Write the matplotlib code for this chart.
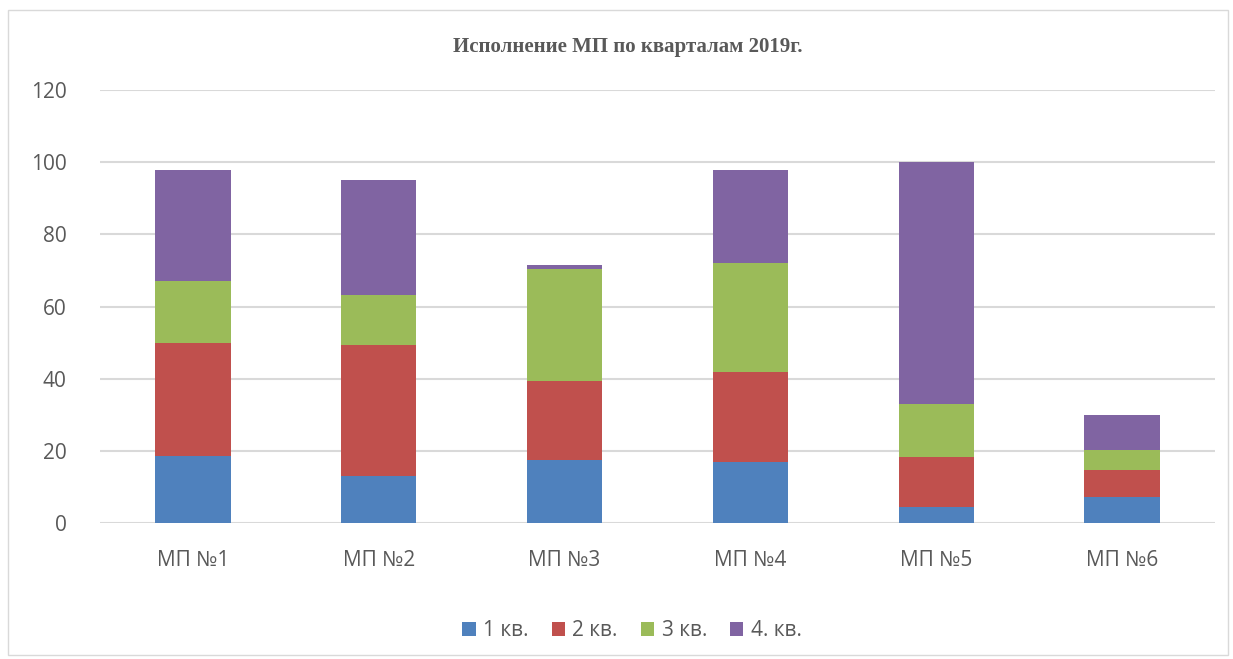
import numpy as np
import matplotlib.pyplot as plt
from matplotlib.patches import Rectangle

categories = ["МП №1", "МП №2", "МП №3", "МП №4", "МП №5", "МП №6"]
series_names = ["1 кв.", "2 кв.", "3 кв.", "4. кв."]
q1 = [18.7, 13.1, 17.5, 17.0, 4.4, 7.3]
q2 = [31.2, 36.4, 21.8, 24.8, 13.9, 7.5]
q3 = [17.2, 13.7, 31.1, 30.3, 14.8, 5.5]
q4 = [30.8, 31.8, 1.0, 25.7, 66.9, 9.6]
colors = ["#4f81bd", "#c0504d", "#9bbb59", "#8064a2"]

plt.rcParams['font.family'] = ['Open Sans', 'DejaVu Sans']

fig = plt.figure(figsize=(12.33, 6.59), dpi=100)
ax = fig.add_axes([100 / 1233, 1 - 523.3 / 659, 1115 / 1233, (523.3 - 90) / 659])

# outer chart border
fig.patches.append(Rectangle((8 / 1233, 4 / 659), 1220 / 1233, 645 / 659,
                             transform=fig.transFigure, fill=False,
                             edgecolor="#d9d9d9", lw=1))

x = np.arange(len(categories))
bottom = np.zeros(len(categories))
for name, vals, c in zip(series_names, [q1, q2, q3, q4], colors):
    ax.bar(x, vals, 0.405, bottom=bottom, color=c, label=name, zorder=3)
    bottom += np.array(vals)

ax.set_xlim(-0.5, 5.5)
ax.set_ylim(0, 120)
ax.set_yticks(range(0, 121, 20))
ax.set_xticks(x)
ax.set_xticklabels(categories)
ax.grid(axis="y", color="#d9d9d9", lw=1.5, zorder=0)
for s in ax.spines.values():
    s.set_visible(False)
ax.tick_params(length=0, labelsize=15, colors="#595959")
ax.tick_params(axis="x", pad=19)
ax.tick_params(axis="y", pad=24)

fig.text(628 / 1233, 1 - 47 / 659, "Исполнение МП по кварталам 2019г.",
         ha="center", va="center", fontsize=15, fontweight="bold",
         family="Liberation Serif", color="#595959")

leg = fig.legend(loc="center", bbox_to_anchor=(632 / 1233, 1 - 631 / 659), ncol=4,
                 frameon=False, fontsize=15, handlelength=0.65, handleheight=0.65,
                 columnspacing=1.1, handletextpad=0.35)
for t in leg.get_texts():
    t.set_color("#595959")

fig.savefig("out.png", dpi=100)
